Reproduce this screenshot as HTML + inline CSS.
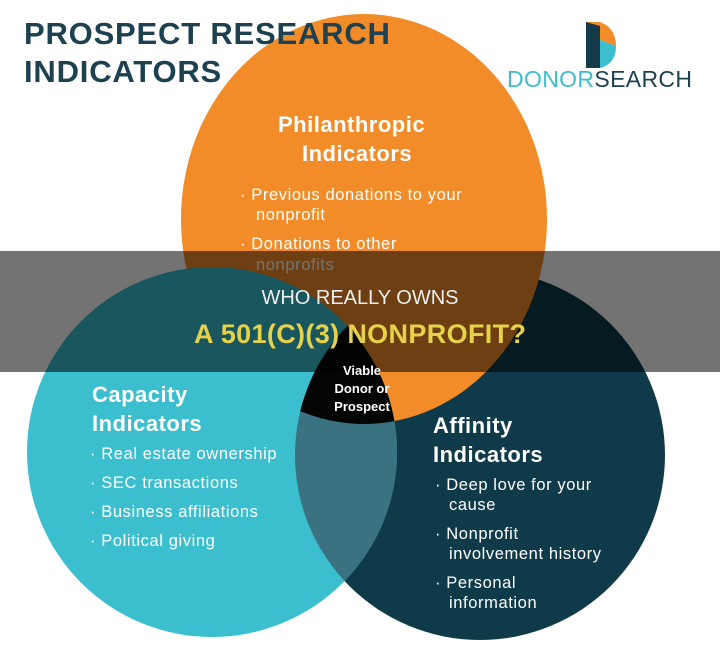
<!DOCTYPE html>
<html><head><style>
body{margin:0;width:720px;height:662px;background:#fff;overflow:hidden;position:relative;font-family:"Liberation Sans",sans-serif}
svg{position:absolute;left:0;top:0}
</style></head><body>
<svg width="720" height="662" viewBox="0 0 720 662">
<defs>
<clipPath id="cT"><circle cx="212" cy="452" r="185"/></clipPath>
<clipPath id="cD"><circle cx="480" cy="455" r="185"/></clipPath>
</defs>
<circle cx="480" cy="455" r="185" fill="#0f3a4a"/>
<ellipse cx="364" cy="219" rx="183" ry="205" fill="#f28c28"/>
<circle cx="212" cy="452" r="185" fill="#3bbfce"/>
<g clip-path="url(#cD)"><circle cx="212" cy="452" r="185" fill="#3b7282"/></g>
<g clip-path="url(#cD)"><g clip-path="url(#cT)"><ellipse cx="364" cy="219" rx="183" ry="205" fill="#050505"/></g></g>
<g font-family="Liberation Sans, sans-serif" font-weight="bold" fill="#1d4150" font-size="31" letter-spacing="0.8">
<text x="24" y="44">PROSPECT RESEARCH</text>
<text x="24" y="82">INDICATORS</text>
</g>
<path d="M586 22 L600 22 Q616 28 616 46 L600 40 Z" fill="#f28c28"/>
<path d="M586 22 L600 26 L600 68 L586 68 Z" fill="#153b4a"/>
<path d="M600 40 L616 46 Q616 64 600 68 Z" fill="#3bbfce"/>
<text x="507" y="87" font-size="23" fill="#3bbfce" textLength="185">DONOR<tspan fill="#1d4150">SEARCH</tspan></text>
<g fill="#fff" font-weight="bold" font-size="22" letter-spacing="0.5">
<text x="278" y="132">Philanthropic</text><text x="302" y="161">Indicators</text>
<text x="92" y="402">Capacity</text><text x="92" y="431">Indicators</text>
<text x="433" y="433">Affinity</text><text x="433" y="462">Indicators</text>
</g>
<g fill="#fff" font-size="16.5" letter-spacing="0.6">
<text x="240" y="200">·  Previous donations to your</text><text x="256" y="220">nonprofit</text>
<text x="240" y="249">·  Donations to other</text><text x="256" y="270">nonprofits</text>
<text x="90" y="459">·  Real estate ownership</text>
<text x="90" y="488">·  SEC transactions</text>
<text x="90" y="517">·  Business affiliations</text>
<text x="90" y="546">·  Political giving</text>
<text x="435" y="490">·  Deep love for your</text><text x="449" y="510">cause</text>
<text x="435" y="539">·  Nonprofit</text><text x="449" y="559">involvement history</text>
<text x="435" y="588">·  Personal</text><text x="449" y="608">information</text>
</g>
<rect x="0" y="251" width="720" height="121" fill="rgba(0,0,0,0.55)"/>
<g fill="#fff" font-weight="bold" font-size="13" text-anchor="middle">
<text x="362" y="375">Viable</text><text x="362" y="393">Donor or</text><text x="362" y="411">Prospect</text>
</g>
<text x="360" y="304" text-anchor="middle" fill="#eee" font-size="20">WHO REALLY OWNS</text>
<text x="360" y="343" text-anchor="middle" fill="#e6d24a" font-size="27" font-weight="bold" textLength="332">A 501(C)(3) NONPROFIT?</text>
</svg>
</body></html>
